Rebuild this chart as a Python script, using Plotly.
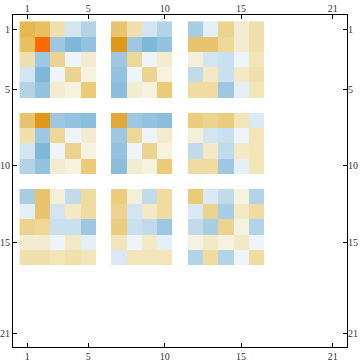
import plotly.graph_objects as go

# Non-empty row/column indices of the 21x21 matrix
indices = [1, 2, 3, 4, 5, 7, 8, 9, 10, 12, 13, 14, 15, 16]
size = 21
tick_vals = [1, 5, 10, 15, 21]

row_1 = [0.48, 0.42, 0.20, -0.15, -0.27, 0.38, 0.20, -0.15, -0.27, -0.31, -0.08, 0.29, 0.12, 0.20]
row_2 = [0.42, 1.00, -0.34, -0.47, -0.39, 0.68, -0.34, -0.47, -0.39, 0.38, 0.38, 0.26, 0.12, 0.20]
row_3 = [0.20, -0.34, 0.29, -0.05, 0.12, -0.34, 0.26, -0.05, 0.12, 0.09, -0.15, -0.19, -0.05, 0.18]
row_4 = [-0.15, -0.47, -0.05, 0.29, 0.07, -0.39, -0.05, 0.29, 0.07, -0.22, 0.15, -0.19, 0.15, 0.20]
row_5 = [-0.27, -0.39, 0.12, 0.07, 0.35, -0.42, 0.12, 0.07, 0.35, 0.23, 0.23, -0.34, -0.08, 0.18]
row_7 = [0.38, 0.68, -0.34, -0.39, -0.42, 0.55, -0.34, -0.39, -0.42, 0.33, 0.29, 0.33, 0.18, -0.12]
row_8 = [0.20, -0.34, 0.26, -0.05, 0.12, -0.34, 0.26, -0.05, 0.12, 0.09, -0.15, -0.19, -0.05, 0.18]
row_9 = [-0.15, -0.47, -0.05, 0.29, 0.07, -0.39, -0.05, 0.29, 0.07, -0.22, 0.15, -0.22, 0.15, 0.18]
row_10 = [-0.27, -0.39, 0.12, 0.07, 0.35, -0.42, 0.12, 0.07, 0.35, 0.23, 0.23, -0.34, -0.08, 0.18]
row_12 = [-0.31, 0.38, 0.09, -0.22, 0.23, 0.33, 0.09, -0.22, 0.23, 0.35, -0.12, -0.22, 0.07, -0.27]
row_13 = [-0.08, 0.38, -0.15, 0.15, 0.23, 0.29, -0.15, 0.15, 0.23, -0.12, 0.29, -0.31, 0.15, 0.23]
row_14 = [0.29, 0.26, -0.19, -0.19, -0.34, 0.33, -0.19, -0.22, -0.34, -0.22, -0.31, 0.29, 0.07, -0.27]
row_15 = [0.12, 0.12, -0.05, 0.15, -0.08, 0.18, -0.05, 0.15, -0.08, 0.07, 0.15, 0.07, 0.15, -0.05]
row_16 = [0.20, 0.20, 0.18, 0.20, 0.18, -0.12, 0.18, 0.18, 0.18, -0.27, 0.23, -0.27, -0.05, 0.23]

rows = [row_1, row_2, row_3, row_4, row_5, row_7, row_8, row_9, row_10,
        row_12, row_13, row_14, row_15, row_16]

# Embed into full 21x21 matrix (None = empty)
z = [[None] * size for _ in range(size)]
for ri, r in zip(indices, rows):
    for ci, v in zip(indices, r):
        z[ri - 1][ci - 1] = v

stops = [
    (-1.0, "#4A8CC4"), (-0.47, "#80B8D8"), (-0.42, "#8ABEDB"), (-0.39, "#93C3DE"),
    (-0.34, "#9EC7E1"), (-0.31, "#A7CEE3"), (-0.27, "#B3D3E7"), (-0.22, "#C1DBEB"),
    (-0.19, "#CAE0EE"), (-0.15, "#D3E5F1"), (-0.12, "#DAE9F4"), (-0.08, "#E4F0F8"),
    (-0.05, "#EEF5FA"), (0.0, "#FBFBF7"), (0.07, "#F5F2E0"), (0.09, "#F4EFD8"),
    (0.12, "#F3ECD0"), (0.15, "#F3E9C4"), (0.18, "#F2E5B8"), (0.20, "#F0E0AE"),
    (0.23, "#F0DCA0"), (0.26, "#EDD898"), (0.29, "#EDD390"), (0.33, "#EBCD7E"),
    (0.35, "#EBCA78"), (0.38, "#E8C46E"), (0.42, "#E8C060"), (0.45, "#E8BC58"),
    (0.48, "#E8B84F"), (0.55, "#E3A838"), (0.68, "#E09818"), (1.0, "#FF6A00"),
]
colorscale = [[(v + 1) / 2, c] for v, c in stops]

axis_vals = list(range(1, size + 1))

fig = go.Figure()
fig.add_trace(go.Heatmap(
    x=axis_vals, y=axis_vals, z=z,
    colorscale=colorscale, zmin=-1, zmax=1,
    showscale=False, hoverongaps=False,
))
fig.add_trace(go.Scatter(
    x=[1], y=[1], xaxis="x2", yaxis="y2", mode="markers",
    marker=dict(opacity=0), hoverinfo="skip", showlegend=False,
))

font = dict(family="Liberation Serif", size=10, color="#333333")
common = dict(tickvals=tick_vals, ticks="inside", ticklen=4, tickwidth=1,
              tickcolor="black", showgrid=False, zeroline=False,
              tickfont=font, automargin=False)
xr = [0.07, 21.93]
yr = [21.9, 0.08]

fig.update_layout(
    width=360, height=363,
    margin=dict(l=13, r=13, t=15, b=16),
    paper_bgcolor="white", plot_bgcolor="white",
    showlegend=False,
    xaxis=dict(range=xr, side="bottom", showline=True, linecolor="black",
               linewidth=1, mirror=True, **common),
    yaxis=dict(range=yr, side="left", showline=True, linecolor="black",
               linewidth=1, mirror=True, **common),
    xaxis2=dict(range=xr, overlaying="x", side="top", showline=False, **common),
    yaxis2=dict(range=yr, overlaying="y", side="right", showline=False, **common),
)

fig.write_html("out.html")
